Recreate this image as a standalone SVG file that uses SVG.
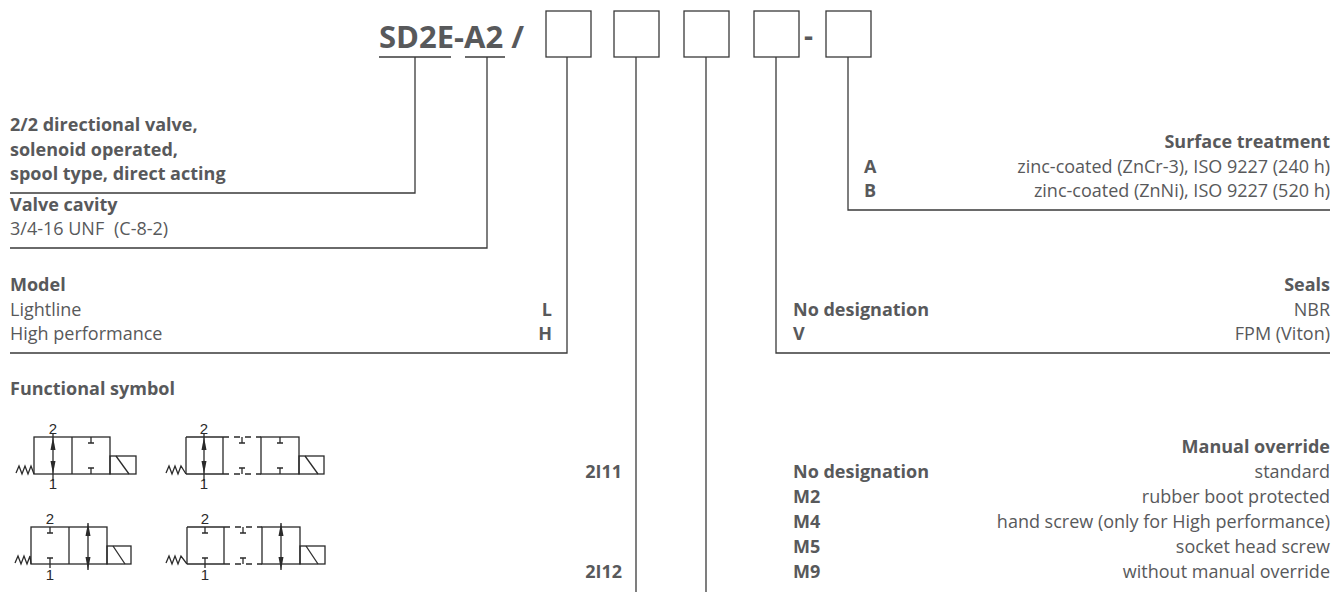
<svg xmlns="http://www.w3.org/2000/svg" width="1340" height="592" viewBox="0 0 1340 592">
<style>
  .t { font-family: "Open Sans", "Liberation Sans", sans-serif; font-size: 18px; fill: #58595b; }
  .b { font-weight: bold; }
  .e { text-anchor: end; }
  .hdr { font-family: "Open Sans", "Liberation Sans", sans-serif; font-size: 31px; font-weight: bold; fill: #58595b; }
  .ln { stroke: #3a3a3a; stroke-width: 1.3; fill: none; }
  .box { stroke: #3a3a3a; stroke-width: 1.3; fill: #ffffff; }
  .s { stroke: #2a2a2a; stroke-width: 1.3; fill: none; }
  .d { stroke: #2a2a2a; stroke-width: 1.3; fill: none; stroke-dasharray: 6 5; }
  .ah { fill: #2a2a2a; stroke: none; }
  .p { font-family: "Liberation Sans", Arial, sans-serif; font-size: 15px; fill: #2a2a2a; text-anchor: middle; }
</style>
<rect width="1340" height="592" fill="#ffffff"/>

<g id="header">
  <text class="hdr" x="379" y="48">SD2E-A2 /</text>
  <line class="ln" x1="379" y1="57" x2="451" y2="57"/>
  <line class="ln" x1="465" y1="57" x2="505" y2="57"/>
  <rect class="box" x="546" y="11" width="45" height="46"/>
  <rect class="box" x="614" y="11" width="45" height="46"/>
  <rect class="box" x="684" y="11" width="45" height="46"/>
  <rect class="box" x="754" y="11" width="45" height="46"/>
  <text class="hdr" x="804" y="46" style="font-size:28px">-</text>
  <rect class="box" x="826" y="11" width="45" height="46"/>
</g>

<g id="connectors">
  <polyline class="ln" points="415,57 415,193 10,193"/>
  <polyline class="ln" points="487,57 487,248 10,248"/>
  <polyline class="ln" points="567,57 567,353 10,353"/>
  <line class="ln" x1="636" y1="57" x2="636" y2="592"/>
  <line class="ln" x1="706" y1="57" x2="706" y2="592"/>
  <polyline class="ln" points="776,57 776,353 1330,353"/>
  <polyline class="ln" points="848,57 848,210 1330,210"/>
</g>

<g id="node-valve-type">
  <text class="t b" x="10" y="131">2/2 directional valve,</text>
  <text class="t b" x="10" y="155.5">solenoid operated,</text>
  <text class="t b" x="10" y="180">spool type, direct acting</text>
</g>

<g id="node-valve-cavity">
  <text class="t b" x="10" y="210.5">Valve cavity</text>
  <text class="t" x="10" y="235">3/4-16 UNF<tspan x="114">(C-8-2)</tspan></text>
</g>

<g id="node-model">
  <text class="t b" x="10" y="291">Model</text>
  <text class="t" x="10" y="315.5">Lightline</text>
  <text class="t" x="10" y="340">High performance</text>
  <text class="t b e" x="552" y="315.5">L</text>
  <text class="t b e" x="552" y="340">H</text>
</g>

<g id="node-surface">
  <text class="t b e" x="1330" y="148">Surface treatment</text>
  <text class="t b" x="864" y="172.5">A</text>
  <text class="t e" x="1330" y="172.5">zinc-coated (ZnCr-3), ISO 9227 (240 h)</text>
  <text class="t b" x="864" y="197">B</text>
  <text class="t e" x="1330" y="197">zinc-coated (ZnNi), ISO 9227 (520 h)</text>
</g>

<g id="node-seals">
  <text class="t b e" x="1330" y="291">Seals</text>
  <text class="t b" x="793" y="315.5">No designation</text>
  <text class="t e" x="1330" y="315.5">NBR</text>
  <text class="t b" x="793" y="340">V</text>
  <text class="t e" x="1330" y="340">FPM (Viton)</text>
</g>

<g id="node-manual-override">
  <text class="t b e" x="1330" y="453">Manual override</text>
  <text class="t b" x="793" y="478">No designation</text>
  <text class="t e" x="1330" y="478">standard</text>
  <text class="t b" x="793" y="503">M2</text>
  <text class="t e" x="1330" y="503">rubber boot protected</text>
  <text class="t b" x="793" y="528">M4</text>
  <text class="t e" x="1330" y="528">hand screw (only for High performance)</text>
  <text class="t b" x="793" y="553">M5</text>
  <text class="t e" x="1330" y="553">socket head screw</text>
  <text class="t b" x="793" y="578">M9</text>
  <text class="t e" x="1330" y="578">without manual override</text>
</g>

<g id="node-functional-symbol">
  <text class="t b" x="10" y="395">Functional symbol</text>
  <text class="t b e" x="622" y="478">2I11</text>
  <text class="t b e" x="622" y="578">2I12</text>

  <g id="sym-2I11-a">
    <path class="s" d="M16,473 L19,466 L22,474 L25,466 L28,474 L31,466 L34,474"/>
    <rect class="s" x="34" y="437" width="76" height="37"/>
    <line class="s" x1="72" y1="437" x2="72" y2="474"/>
    <line class="s" x1="53" y1="434" x2="53" y2="481"/>
    <path class="ah" d="M53,437 L50.5,450 L55.5,450 Z"/>
    <path class="ah" d="M53,474 L50.5,461 L55.5,461 Z"/>
    <path class="s" d="M91,437 V443 M88,443 H94 M91,474 V468 M88,468 H94"/>
    <rect class="s" x="110" y="456" width="26" height="18"/>
    <line class="s" x1="116" y1="456" x2="129" y2="474"/>
    <text class="p" x="53" y="434">2</text>
    <text class="p" x="53" y="489">1</text>
  </g>

  <g id="sym-2I11-b">
    <path class="s" d="M166,473 L169,466 L172,474 L175,466 L178,474 L181,466 L186,474"/>
    <line class="s" x1="186" y1="437" x2="186" y2="474"/>
    <line class="s" x1="186" y1="437" x2="223" y2="437"/>
    <line class="s" x1="186" y1="474" x2="223" y2="474"/>
    <line class="s" x1="223" y1="437" x2="223" y2="474"/>
    <line class="d" x1="223" y1="437" x2="261" y2="437"/>
    <line class="d" x1="223" y1="474" x2="261" y2="474"/>
    <rect class="s" x="261" y="437" width="38" height="37"/>
    <line class="s" x1="204" y1="434" x2="204" y2="481"/>
    <path class="ah" d="M204,437 L201.5,450 L206.5,450 Z"/>
    <path class="ah" d="M204,474 L201.5,461 L206.5,461 Z"/>
    <path class="s" d="M242,437 V443 M239,443 H245 M242,474 V468 M239,468 H245"/>
    <path class="s" d="M280,437 V443 M277,443 H283 M280,474 V468 M277,468 H283"/>
    <rect class="s" x="299" y="456" width="25" height="18"/>
    <line class="s" x1="305" y1="456" x2="318" y2="474"/>
    <text class="p" x="204" y="434">2</text>
    <text class="p" x="204" y="489">1</text>
  </g>

  <g id="sym-2I12-a">
    <path class="s" d="M15,563 L18,556 L21,564 L24,556 L27,564 L30,556 L31,564"/>
    <rect class="s" x="31" y="527" width="76" height="37"/>
    <line class="s" x1="69" y1="527" x2="69" y2="564"/>
    <path class="s" d="M50,527 V533 M47,533 H53 M50,564 V558 M47,558 H53 M50,564 V568"/>
    <line class="s" x1="88" y1="523" x2="88" y2="570"/>
    <path class="ah" d="M88,523 L85.5,536 L90.5,536 Z"/>
    <path class="ah" d="M88,570 L85.5,557 L90.5,557 Z"/>
    <rect class="s" x="107" y="546" width="24" height="18"/>
    <line class="s" x1="113" y1="546" x2="125" y2="564"/>
    <text class="p" x="50" y="524">2</text>
    <text class="p" x="50" y="580">1</text>
  </g>

  <g id="sym-2I12-b">
    <path class="s" d="M166,563 L169,556 L172,564 L175,556 L178,564 L181,556 L187,564"/>
    <line class="s" x1="187" y1="527" x2="187" y2="564"/>
    <line class="s" x1="187" y1="527" x2="224" y2="527"/>
    <line class="s" x1="187" y1="564" x2="224" y2="564"/>
    <line class="s" x1="224" y1="527" x2="224" y2="564"/>
    <line class="d" x1="224" y1="527" x2="262" y2="527"/>
    <line class="d" x1="224" y1="564" x2="262" y2="564"/>
    <rect class="s" x="262" y="527" width="38" height="37"/>
    <path class="s" d="M205,527 V533 M202,533 H208 M205,564 V558 M202,558 H208 M205,564 V568"/>
    <path class="s" d="M243,527 V533 M240,533 H246 M243,564 V558 M240,558 H246"/>
    <line class="s" x1="281" y1="523" x2="281" y2="570"/>
    <path class="ah" d="M281,523 L278.5,536 L283.5,536 Z"/>
    <path class="ah" d="M281,570 L278.5,557 L283.5,557 Z"/>
    <rect class="s" x="300" y="546" width="25" height="18"/>
    <line class="s" x1="306" y1="546" x2="318" y2="564"/>
    <text class="p" x="205" y="524">2</text>
    <text class="p" x="205" y="580">1</text>
  </g>
</g>
</svg>
